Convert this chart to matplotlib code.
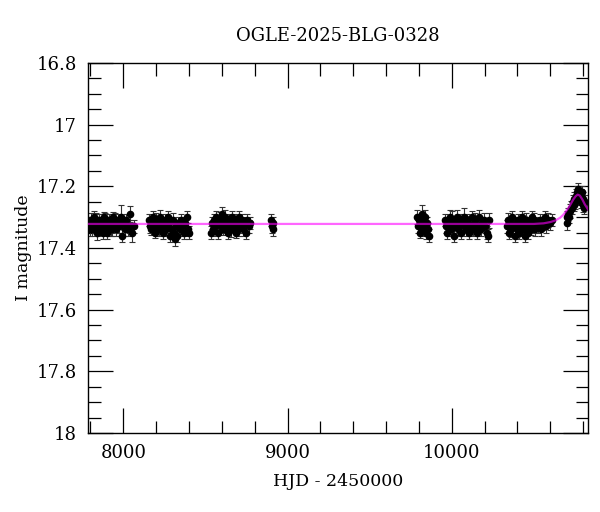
import matplotlib
matplotlib.use("Agg")
import matplotlib.pyplot as plt
from matplotlib.ticker import MultipleLocator

TITLE = "OGLE-2025-BLG-0328"

# OGLE I-band photometry (HJD - 2450000, mag, err)
HJD = [
    # season 2017
    7792, 7798, 7805, 7811, 7818, 7824, 7830, 7837, 7843, 7850, 7856, 7863,
    7870, 7877, 7884, 7891, 7899, 7906, 7914, 7922, 7930, 7939, 7947, 7956,
    7965, 7974, 7983, 7993, 8003, 8014, 8026, 8041, 8055, 8062,
    7795, 7808, 7821, 7834, 7847, 7860, 7874, 7888, 7902, 7918, 7934, 7951,
    7969, 7988, 8008, 8033,
    # season 2018
    8155, 8161, 8168, 8174, 8181, 8188, 8195, 8202, 8209, 8216, 8223, 8230,
    8237, 8244, 8251, 8258, 8265, 8272, 8279, 8286, 8293, 8300, 8307, 8314,
    8321, 8328, 8335, 8343, 8351, 8359, 8368, 8377, 8386, 8395, 8403,
    # season 2019
    8532, 8538, 8545, 8551, 8558, 8565, 8572, 8579, 8586, 8593, 8600, 8607,
    8614, 8621, 8628, 8635, 8642, 8649, 8656, 8663, 8670, 8677, 8684, 8691,
    8698, 8705, 8712, 8720, 8728, 8736, 8745, 8754, 8763, 8770,
    # 2020 (short)
    8902, 8906, 8909, 8913,
    # season 2022
    9790, 9795, 9800, 9806, 9811, 9817, 9822, 9828, 9834, 9840, 9846, 9852,
    9858, 9864,
    # season 2023
    9960, 9967, 9974, 9981, 9988, 9995, 10002, 10009, 10016, 10023, 10030,
    10037, 10044, 10051, 10058, 10065, 10072, 10079, 10086, 10093, 10100,
    10107, 10114, 10121, 10128, 10135, 10143, 10151, 10159, 10167, 10176,
    10185, 10194, 10204, 10214, 10224, 10230,
    # season 2024
    10336, 10342, 10349, 10355, 10362, 10369, 10376, 10383, 10390, 10397,
    10404, 10411, 10418, 10425, 10432, 10439, 10446, 10453, 10460, 10467,
    10474, 10481, 10488, 10495, 10502, 10510, 10518, 10527, 10536, 10546,
    10556, 10566, 10577, 10588, 10600, 10612,
    # season 2025 (event)
    10700, 10705, 10710, 10716, 10722, 10727, 10732, 10737, 10742, 10746,
    10750, 10754, 10758, 10762, 10766, 10770, 10774, 10778, 10782, 10786,
    10790, 10794, 10798, 10802, 10806, 10810,
]

IMAG = [
    17.32, 17.33, 17.31, 17.34, 17.32, 17.30, 17.33, 17.35, 17.32, 17.31, 17.33, 17.34,
    17.31, 17.32, 17.30, 17.33, 17.35, 17.32, 17.31, 17.34, 17.33, 17.30, 17.32, 17.34,
    17.31, 17.33, 17.30, 17.36, 17.32, 17.31, 17.34, 17.29, 17.35, 17.33,
    17.34, 17.32, 17.33, 17.31, 17.34, 17.32, 17.35, 17.31, 17.33, 17.32, 17.34, 17.31,
    17.33, 17.32, 17.34, 17.33,
    17.31, 17.33, 17.34, 17.32, 17.30, 17.33, 17.35, 17.31, 17.32, 17.34, 17.30, 17.33,
    17.32, 17.35, 17.31, 17.34, 17.33, 17.30, 17.32, 17.36, 17.34, 17.31, 17.35, 17.37,
    17.33, 17.36, 17.32, 17.34, 17.31, 17.33, 17.35, 17.32, 17.30, 17.34, 17.35,
    17.35, 17.32, 17.34, 17.31, 17.33, 17.30, 17.32, 17.35, 17.31, 17.33, 17.29, 17.34,
    17.32, 17.30, 17.33, 17.35, 17.31, 17.32, 17.34, 17.30, 17.33, 17.31, 17.35, 17.32,
    17.34, 17.30, 17.33, 17.31, 17.34, 17.32, 17.35, 17.31, 17.33, 17.32,
    17.31, 17.33, 17.32, 17.34,
    17.30, 17.33, 17.31, 17.35, 17.32, 17.29, 17.34, 17.31, 17.33, 17.30, 17.35, 17.32,
    17.34, 17.36,
    17.31, 17.33, 17.35, 17.32, 17.30, 17.34, 17.31, 17.33, 17.36, 17.32, 17.30,
    17.34, 17.33, 17.31, 17.35, 17.32, 17.30, 17.33, 17.34, 17.31, 17.32,
    17.35, 17.33, 17.30, 17.34, 17.32, 17.31, 17.35, 17.33, 17.30, 17.34,
    17.32, 17.31, 17.33, 17.35, 17.36, 17.31,
    17.33, 17.31, 17.35, 17.32, 17.34, 17.30, 17.33, 17.36, 17.32, 17.34,
    17.31, 17.35, 17.33, 17.30, 17.34, 17.32, 17.36, 17.31, 17.33, 17.35,
    17.32, 17.34, 17.30, 17.33, 17.31, 17.34, 17.32, 17.33, 17.31, 17.34,
    17.32, 17.30, 17.33, 17.31, 17.32, 17.31,
    17.32, 17.30, 17.29, 17.30, 17.28, 17.27, 17.27, 17.25, 17.26, 17.24,
    17.25, 17.23, 17.24, 17.22, 17.23, 17.21, 17.23, 17.22, 17.24, 17.23,
    17.25, 17.22, 17.26, 17.24, 17.27, 17.25,
]

IERR = [
    0.020, 0.018, 0.022, 0.020, 0.019, 0.021, 0.020, 0.023, 0.018, 0.020, 0.022, 0.019,
    0.021, 0.020, 0.018, 0.022, 0.020, 0.019, 0.021, 0.020, 0.022, 0.018, 0.020, 0.021,
    0.019, 0.022, 0.040, 0.020, 0.021, 0.019, 0.022, 0.025, 0.030, 0.020,
    0.020, 0.021, 0.019, 0.022, 0.020, 0.021, 0.020, 0.022, 0.019, 0.021, 0.020, 0.022,
    0.021, 0.020, 0.022, 0.021,
    0.020, 0.022, 0.019, 0.021, 0.020, 0.023, 0.018, 0.022, 0.020, 0.021, 0.024, 0.019,
    0.020, 0.022, 0.021, 0.020, 0.023, 0.019, 0.022, 0.020, 0.021, 0.024, 0.020, 0.022,
    0.021, 0.019, 0.022, 0.020, 0.021, 0.023, 0.020, 0.022, 0.019, 0.021, 0.020,
    0.022, 0.020, 0.021, 0.019, 0.022, 0.020, 0.023, 0.021, 0.028, 0.020, 0.022, 0.019,
    0.021, 0.024, 0.020, 0.022, 0.019, 0.021, 0.023, 0.020, 0.022, 0.021, 0.019, 0.022,
    0.020, 0.021, 0.023, 0.020, 0.022, 0.019, 0.021, 0.020, 0.022, 0.020,
    0.020, 0.022, 0.021, 0.020,
    0.022, 0.020, 0.021, 0.019, 0.023, 0.030, 0.021, 0.022, 0.020, 0.024, 0.021, 0.020,
    0.022, 0.020,
    0.020, 0.022, 0.021, 0.019, 0.023, 0.020, 0.030, 0.022, 0.020, 0.021, 0.023,
    0.020, 0.022, 0.019, 0.021, 0.020, 0.030, 0.022, 0.020, 0.021, 0.023,
    0.020, 0.022, 0.019, 0.021, 0.020, 0.022, 0.021, 0.020, 0.023, 0.020,
    0.021, 0.022, 0.020, 0.021, 0.022, 0.025,
    0.020, 0.022, 0.021, 0.019, 0.023, 0.020, 0.021, 0.022, 0.020, 0.024,
    0.021, 0.020, 0.022, 0.019, 0.021, 0.023, 0.020, 0.022, 0.021, 0.020,
    0.022, 0.019, 0.021, 0.020, 0.022, 0.021, 0.020, 0.023, 0.021, 0.020,
    0.022, 0.021, 0.020, 0.022, 0.021, 0.020,
    0.022, 0.020, 0.021, 0.020, 0.022, 0.021, 0.020, 0.022, 0.021, 0.020,
    0.022, 0.021, 0.020, 0.022, 0.021, 0.020, 0.022, 0.021, 0.020, 0.022,
    0.021, 0.020, 0.022, 0.021, 0.020, 0.022,
]

# fitted model curve (magenta), sampled by eye
MODEL_HJD = [7780, 10500, 10560, 10600, 10630, 10660, 10680, 10700, 10720,
             10740, 10755, 10767, 10780, 10795, 10810, 10830, 10840]
MODEL_MAG = [17.322, 17.322, 17.320, 17.316, 17.311, 17.302, 17.292, 17.278,
             17.262, 17.243, 17.232, 17.227, 17.230, 17.242, 17.258, 17.275, 17.283]

plt.rcParams["font.family"] = ["DejaVu Serif"]

fig = plt.figure(figsize=(6, 5.12), dpi=100)
ax = fig.add_axes([0.1467, 0.1543, 0.8333, 0.7227])

ax.errorbar(HJD, IMAG, yerr=IERR, fmt="o", color="black", ms=4.5,
            elinewidth=0.8, capsize=2.5, capthick=0.8, ecolor="#333333", zorder=2)
ax.plot(MODEL_HJD, MODEL_MAG, color="#ff00ff", lw=1.6, alpha=0.6, zorder=3)

ax.set_xlim(7785, 10830)
ax.set_ylim(18.0, 16.8)
ax.xaxis.set_major_locator(MultipleLocator(1000))
ax.xaxis.set_minor_locator(MultipleLocator(200))
ax.yaxis.set_major_locator(MultipleLocator(0.2))
ax.yaxis.set_minor_locator(MultipleLocator(0.05))
ax.yaxis.set_major_formatter(plt.FuncFormatter(lambda v, p: f"{v:g}"))

ax.tick_params(which="both", direction="in", top=True, right=True,
               labelsize=13, width=0.9)
ax.tick_params(which="major", length=18, pad=8)
ax.tick_params(which="minor", length=9)
for s in ax.spines.values():
    s.set_linewidth(1.0)

ax.set_title(TITLE, fontsize=13, pad=16)
ax.set_xlabel("HJD - 2450000", fontsize=12.5, labelpad=8)
ax.set_ylabel("I magnitude", fontsize=12.5, labelpad=3)

fig.savefig("out.png", dpi=100)
